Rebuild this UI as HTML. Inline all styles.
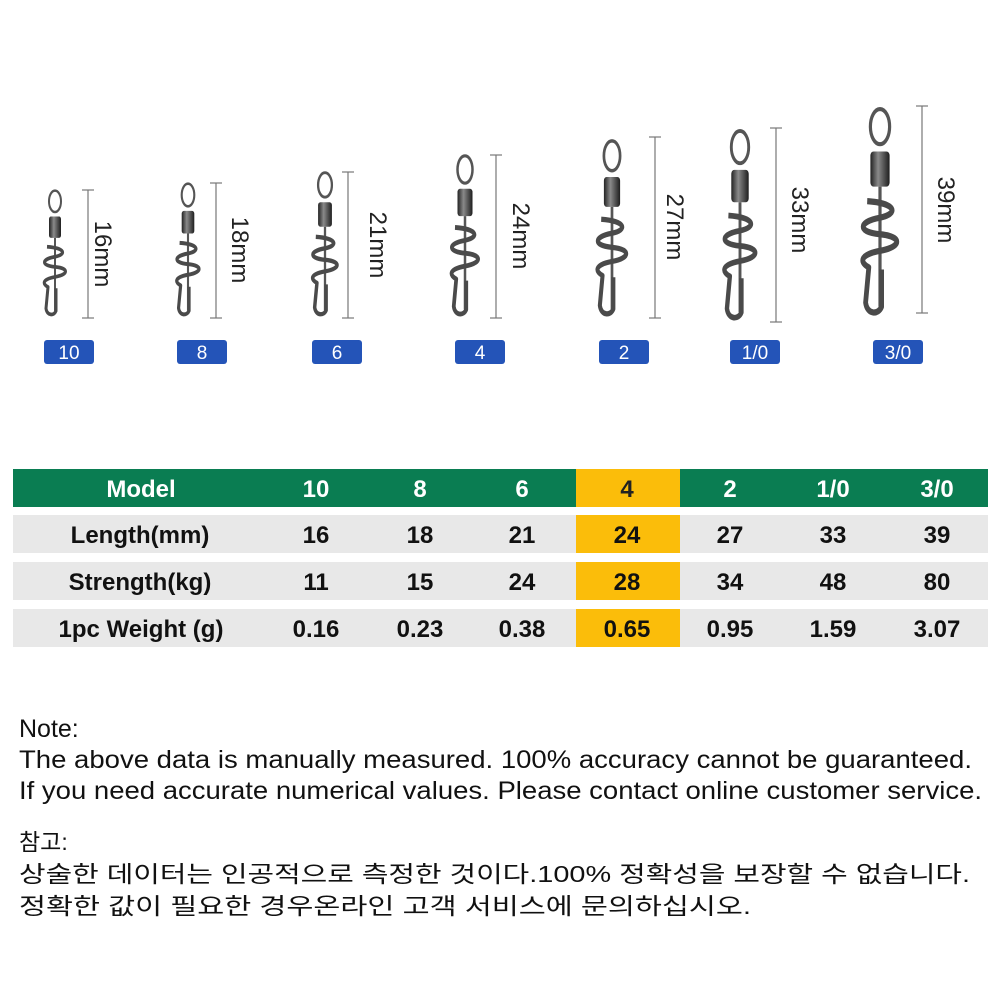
<!DOCTYPE html>
<html><head><meta charset="utf-8"><style>
html,body{margin:0;padding:0;background:#fff;}
svg{display:block}
</style></head><body>
<svg width="1000" height="1000" viewBox="0 0 1000 1000" xmlns="http://www.w3.org/2000/svg">
<defs>
<linearGradient id="bar" x1="0" x2="1"><stop offset="0" stop-color="#222"/><stop offset="0.4" stop-color="#8a8a8a"/><stop offset="1" stop-color="#1e1e1e"/></linearGradient>
<g id="sw">
  <ellipse cx="0" cy="9" rx="6" ry="8.5" fill="none" stroke="#555" stroke-width="2"/>
  <rect x="-6" y="21" width="12" height="17" rx="2" fill="url(#bar)"/>
  <line x1="0" y1="38" x2="0" y2="96" stroke="#555" stroke-width="2"/>
  <path d="M-8 45 C10 46 12 51 0 53 C-14 55 -14 60 0 61 C14 62 14 67 0 69 C-14 71 -12 75 -7 77 L-9 94 C-8 100 -1 100 1 96 L1 78" fill="none" stroke="#4a4a4a" stroke-width="3" stroke-linejoin="round"/>
</g>
</defs>
<rect width="1000" height="1000" fill="#fff"/>

<g transform="translate(55,190) scale(1,1.26)"><use href="#sw"/></g>
<g transform="translate(188,183) scale(1.05,1.33)"><use href="#sw"/></g>
<g transform="translate(325,172) scale(1.15,1.44)"><use href="#sw"/></g>
<g transform="translate(465,155) scale(1.25,1.61)"><use href="#sw"/></g>
<g transform="translate(612,140) scale(1.35,1.76)"><use href="#sw"/></g>
<g transform="translate(740,130) scale(1.45,1.9)"><use href="#sw"/></g>
<g transform="translate(880,108) scale(1.6,2.07)"><use href="#sw"/></g>

<g stroke="#777" stroke-width="1.2">
<line x1="88" y1="190" x2="88" y2="318"/><line x1="82" y1="190" x2="94" y2="190"/><line x1="82" y1="318" x2="94" y2="318"/>
<line x1="216" y1="183" x2="216" y2="318"/><line x1="210" y1="183" x2="222" y2="183"/><line x1="210" y1="318" x2="222" y2="318"/>
<line x1="348" y1="172" x2="348" y2="318"/><line x1="342" y1="172" x2="354" y2="172"/><line x1="342" y1="318" x2="354" y2="318"/>
<line x1="496" y1="155" x2="496" y2="318"/><line x1="490" y1="155" x2="502" y2="155"/><line x1="490" y1="318" x2="502" y2="318"/>
<line x1="655" y1="137" x2="655" y2="318"/><line x1="649" y1="137" x2="661" y2="137"/><line x1="649" y1="318" x2="661" y2="318"/>
<line x1="776" y1="128" x2="776" y2="322"/><line x1="770" y1="128" x2="782" y2="128"/><line x1="770" y1="322" x2="782" y2="322"/>
<line x1="922" y1="106" x2="922" y2="313"/><line x1="916" y1="106" x2="928" y2="106"/><line x1="916" y1="313" x2="928" y2="313"/>
</g>
<g font-family="Liberation Sans, sans-serif" font-size="24" fill="#222" text-anchor="middle">
<text transform="translate(95,254) rotate(90)">16mm</text>
<text transform="translate(232,250) rotate(90)">18mm</text>
<text transform="translate(370,245) rotate(90)">21mm</text>
<text transform="translate(513,236) rotate(90)">24mm</text>
<text transform="translate(667,227) rotate(90)">27mm</text>
<text transform="translate(792,220) rotate(90)">33mm</text>
<text transform="translate(938,210) rotate(90)">39mm</text>
</g>

<g fill="#2454b8">
<rect x="44" y="340" width="50" height="24" rx="3"/>
<rect x="177" y="340" width="50" height="24" rx="3"/>
<rect x="312" y="340" width="50" height="24" rx="3"/>
<rect x="455" y="340" width="50" height="24" rx="3"/>
<rect x="599" y="340" width="50" height="24" rx="3"/>
<rect x="730" y="340" width="50" height="24" rx="3"/>
<rect x="873" y="340" width="50" height="24" rx="3"/>
</g>
<g font-family="Liberation Sans, sans-serif" font-size="19" fill="#fff" text-anchor="middle">
<text x="69" y="359">10</text><text x="202" y="359">8</text><text x="337" y="359">6</text><text x="480" y="359">4</text><text x="624" y="359">2</text><text x="755" y="359">1/0</text><text x="898" y="359">3/0</text>
</g>

<rect x="13" y="469" width="975" height="38" fill="#0a7d52"/>
<rect x="13" y="515" width="975" height="38" fill="#e8e8e8"/>
<rect x="13" y="562" width="975" height="38" fill="#e8e8e8"/>
<rect x="13" y="609" width="975" height="38" fill="#e8e8e8"/>
<g fill="#fbbd0a">
<rect x="576" y="469" width="104" height="38"/>
<rect x="576" y="515" width="104" height="38"/>
<rect x="576" y="562" width="104" height="38"/>
<rect x="576" y="609" width="104" height="38"/>
</g>
<g font-family="Liberation Sans, sans-serif" font-size="24" font-weight="bold" text-anchor="middle">
<g fill="#fff">
<text x="141" y="497">Model</text><text x="316" y="497">10</text><text x="420" y="497">8</text><text x="522" y="497">6</text><text x="627" y="497" fill="#222">4</text><text x="730" y="497">2</text><text x="833" y="497">1/0</text><text x="937" y="497">3/0</text>
</g>
<g fill="#111">
<text x="140" y="543">Length(mm)</text><text x="316" y="543">16</text><text x="420" y="543">18</text><text x="522" y="543">21</text><text x="627" y="543">24</text><text x="730" y="543">27</text><text x="833" y="543">33</text><text x="937" y="543">39</text>
<text x="140" y="590">Strength(kg)</text><text x="316" y="590">11</text><text x="420" y="590">15</text><text x="522" y="590">24</text><text x="627" y="590">28</text><text x="730" y="590">34</text><text x="833" y="590">48</text><text x="937" y="590">80</text>
<text x="141" y="637">1pc Weight (g)</text><text x="316" y="637">0.16</text><text x="420" y="637">0.23</text><text x="522" y="637">0.38</text><text x="627" y="637">0.65</text><text x="730" y="637">0.95</text><text x="833" y="637">1.59</text><text x="937" y="637">3.07</text>
</g>
</g>

<g font-family="Liberation Sans, sans-serif" font-size="25" fill="#111">
<text x="19" y="737">Note:</text>
<text x="19" y="768" textLength="953" lengthAdjust="spacingAndGlyphs">The above data is manually measured. 100% accuracy cannot be guaranteed.</text>
<text x="19" y="799" textLength="963" lengthAdjust="spacingAndGlyphs">If you need accurate numerical values. Please contact online customer service.</text>
</g>
<g font-family="Liberation Sans, 'Noto Sans CJK KR', sans-serif" font-size="23" fill="#111">
<text x="19" y="850">참고:</text>
<text x="19" y="882" textLength="951" lengthAdjust="spacingAndGlyphs">상술한 데이터는 인공적으로 측정한 것이다.100% 정확성을 보장할 수 없습니다.</text>
<text x="19" y="914" textLength="732" lengthAdjust="spacingAndGlyphs">정확한 값이 필요한 경우온라인 고객 서비스에 문의하십시오.</text>
</g>
</svg>
</body></html>
